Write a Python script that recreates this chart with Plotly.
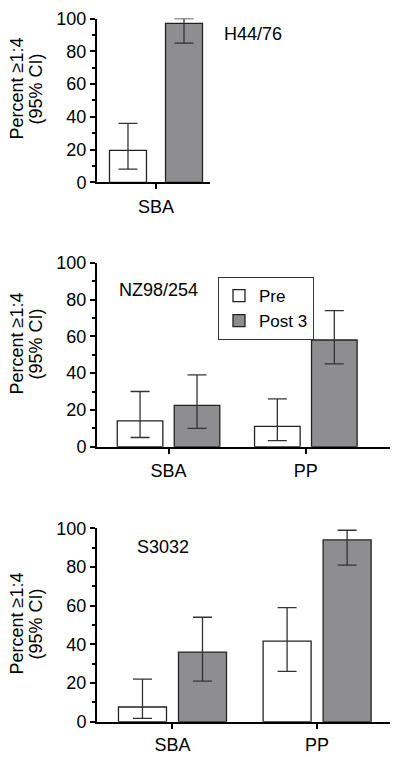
import plotly.graph_objects as go

# ---- data ----
groups = ["Pre", "Post 3"]

p1_cats = ["SBA"]
p1_pre = [19.5]
p1_pre_lo = [8]
p1_pre_hi = [36]
p1_post = [97]
p1_post_lo = [85]
p1_post_hi = [100]

p2_cats = ["SBA", "PP"]
p2_pre = [14, 11]
p2_pre_lo = [5, 3.3]
p2_pre_hi = [30, 26]
p2_post = [22.5, 58]
p2_post_lo = [10, 45]
p2_post_hi = [39, 74]

p3_cats = ["SBA", "PP"]
p3_pre = [7.6, 41.7]
p3_pre_lo = [1.7, 26]
p3_pre_hi = [22, 59]
p3_post = [36, 94]
p3_post_lo = [21, 81]
p3_post_hi = [54, 99]

strain_labels = ["H44/76", "NZ98/254", "S3032"]
y_title_lines = ["Percent \u22651:4", "(95% CI)"]
y_ticks = [0, 20, 40, 60, 80, 100]

# page body has an 8px margin: the figure starts at (8, 8); work in page pixels
OFF = 8
W, H = 392, 749
FONT = "Liberation Sans, Arial, Helvetica, sans-serif"
GRAY = "#8e8e91"
EDGE = "#222222"
ERR = "#333333"

fig = go.Figure()


def err(vals, lo, hi):
    return dict(type="data", symmetric=False,
                array=[h - v for v, h in zip(vals, hi)],
                arrayminus=[v - l for v, l in zip(vals, lo)],
                color=ERR, thickness=1.3, width=9.5)


panels = [
    (p1_cats, p1_pre, p1_pre_lo, p1_pre_hi, p1_post, p1_post_lo, p1_post_hi, "x", "y"),
    (p2_cats, p2_pre, p2_pre_lo, p2_pre_hi, p2_post, p2_post_lo, p2_post_hi, "x2", "y2"),
    (p3_cats, p3_pre, p3_pre_lo, p3_pre_hi, p3_post, p3_post_lo, p3_post_hi, "x3", "y3"),
]

for i, (cats, pre, plo, phi, post, qlo, qhi, xa, ya) in enumerate(panels):
    extra = dict(width=0.274) if i == 0 else {}
    fig.add_trace(go.Bar(
        x=cats, y=pre, name=groups[0], xaxis=xa, yaxis=ya,
        marker=dict(color="white", line=dict(color=EDGE, width=1.3)),
        error_y=err(pre, plo, phi), showlegend=(i == 1), **extra))
    fig.add_trace(go.Bar(
        x=cats, y=post, name=groups[1], xaxis=xa, yaxis=ya,
        marker=dict(color=GRAY, line=dict(color=EDGE, width=1.3)),
        error_y=err(post, qlo, qhi), showlegend=(i == 1), **extra))


def fx(px):
    return (px - OFF) / W


def fy(px):
    return 1 - (px - OFF) / H


def px_dom_x(a, b):
    return [fx(a), fx(b)]


def px_dom_y(top, bottom):
    return [fy(bottom), fy(top)]


xcommon = dict(showline=True, linecolor="black", linewidth=2, ticks="outside",
               ticklen=5, tickwidth=2, tickcolor="black", showgrid=False,
               zeroline=False, automargin=False, ticklabeloverflow="allow",
               tickfont=dict(family=FONT, size=18, color="black"),
               ticklabelstandoff=2)
ycommon = dict(showline=True, linecolor="black", linewidth=2, ticks="outside",
               ticklen=5, tickwidth=2, tickcolor="black", showgrid=False,
               zeroline=False, automargin=False, range=[0, 100], tickvals=y_ticks,
               ticklabeloverflow="allow",
               tickfont=dict(family=FONT, size=18, color="black"),
               minor=dict(dtick=10, ticks="outside", ticklen=3, tickwidth=1.5,
                          tickcolor="black", showgrid=False))

annos = []
label_pos = [(222, 34), (117, 290), (135, 547)]
for txt, (ax_, ay_) in zip(strain_labels, label_pos):
    annos.append(dict(text=txt, x=fx(ax_), y=fy(ay_), xref="paper", yref="paper",
                      xanchor="left", yanchor="middle", showarrow=False,
                      font=dict(family=FONT, size=18, color="black")))
title_centers_y = [89, 344, 624]
title_line_x = [16.5, 35.5]
for cy in title_centers_y:
    for line, lx in zip(y_title_lines, title_line_x):
        annos.append(dict(text=line, x=fx(lx), y=fy(cy), xref="paper", yref="paper",
                          xanchor="center", yanchor="middle", textangle=-90,
                          showarrow=False,
                          font=dict(family=FONT, size=18, color="black")))

fig.update_layout(
    template="none",
    xaxis=dict(xcommon, domain=px_dom_x(97, 210), range=[-0.437, 0.40], anchor="y"),
    yaxis=dict(ycommon, domain=px_dom_y(18.5, 182.3), anchor="x"),
    xaxis2=dict(xcommon, domain=px_dom_x(97, 390), range=[-0.521, 1.613], anchor="y2"),
    yaxis2=dict(ycommon, domain=px_dom_y(262.7, 446.7), anchor="x2"),
    xaxis3=dict(xcommon, domain=px_dom_x(97, 390), range=[-0.522, 1.504], anchor="y3",
                ticklabelstandoff=1),
    yaxis3=dict(ycommon, domain=px_dom_y(528.3, 721.7), anchor="x3"),
    barmode="group", bargap=0.17, bargroupgap=0.2,
    width=W, height=H,
    margin=dict(l=0, r=0, t=0, b=0, autoexpand=False),
    paper_bgcolor="white", plot_bgcolor="white",
    font=dict(family=FONT, size=17, color="black"),
    legend=dict(x=fx(218), y=fy(277), xanchor="left", yanchor="top",
                bgcolor="white", bordercolor="#333333", borderwidth=1,
                font=dict(family=FONT, size=17, color="black"),
                itemwidth=30, tracegroupgap=0),
    annotations=annos,
)

fig.write_html("out.html")
